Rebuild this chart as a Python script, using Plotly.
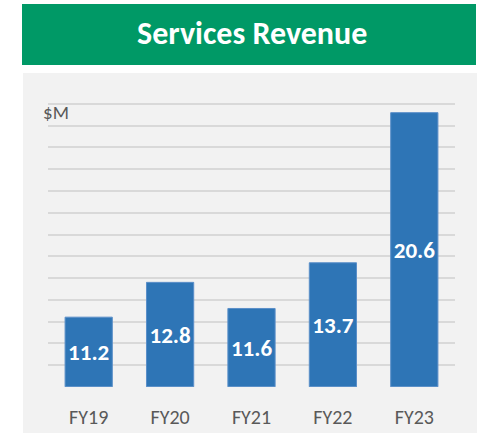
import plotly.graph_objects as go

categories = ["FY19", "FY20", "FY21", "FY22", "FY23"]
revenue = [11.2, 12.8, 11.6, 13.7, 20.6]
value_labels = ["11.2", "12.8", "11.6", "13.7", "20.6"]
axis_min, axis_max = 8, 22
title_text = "Services Revenue"
unit_text = "$M"

FONT = "Calibri, Carlito, Lato, sans-serif"
W, H = 482, 433
L, R, T, B = 48, 27, 82, 46
PW, PH = W - L - R, H - T - B

def px(x):
    return (x - L) / PW

def py(y):
    return (H - B - y) / PH

fig = go.Figure(go.Bar(
    x=categories, y=[v - axis_min for v in revenue], base=axis_min,
    text=value_labels,
    textposition="inside", insidetextanchor="middle", textangle=0,
    textfont=dict(family=FONT, size=24, color="white", weight="bold"),
    marker=dict(color="#2e75b6", line=dict(color="#5b8fc9", width=1)),
))

fig.update_layout(
    width=W, height=H,
    margin=dict(l=L, r=R, t=T, b=B, autoexpand=False),
    paper_bgcolor="white", plot_bgcolor="rgba(0,0,0,0)",
    bargap=0.42, showlegend=False,
    shapes=[
        dict(type="rect", xref="paper", yref="paper", layer="below",
             x0=px(23), x1=px(477), y0=py(73), y1=py(433),
             fillcolor="#f2f2f2", line=dict(width=0)),
        dict(type="rect", xref="paper", yref="paper", layer="below",
             x0=px(22), x1=px(476), y0=py(4), y1=py(65),
             fillcolor="#009966", line=dict(width=0)),
    ],
    annotations=[
        dict(text="<b>" + title_text + "</b>", xref="paper", yref="paper",
             x=px(252), y=py(33), xanchor="center", yanchor="middle",
             showarrow=False, font=dict(family=FONT, size=32, color="white")),
        dict(text=unit_text, xref="paper", yref="paper",
             x=px(41), y=py(113), xanchor="left", yanchor="middle",
             showarrow=False, font=dict(family=FONT, size=19, color="#595959")),
    ],
)
fig.update_xaxes(showgrid=False, showline=False, zeroline=False,
                 tickfont=dict(family=FONT, size=20, color="#595959"),
                 ticks="", ticklabelstandoff=16, automargin=False)
fig.update_yaxes(range=[axis_min - 0.01, axis_max + 0.01], dtick=1, tick0=0,
                 showgrid=True, gridcolor="#d9d9d9", gridwidth=2,
                 showticklabels=False, zeroline=False, showline=False,
                 automargin=False)

fig.write_html("out.html",
               config={"displayModeBar": False},
               post_script="document.body.style.margin='0';"
                           "document.body.style.overflow='hidden';")
